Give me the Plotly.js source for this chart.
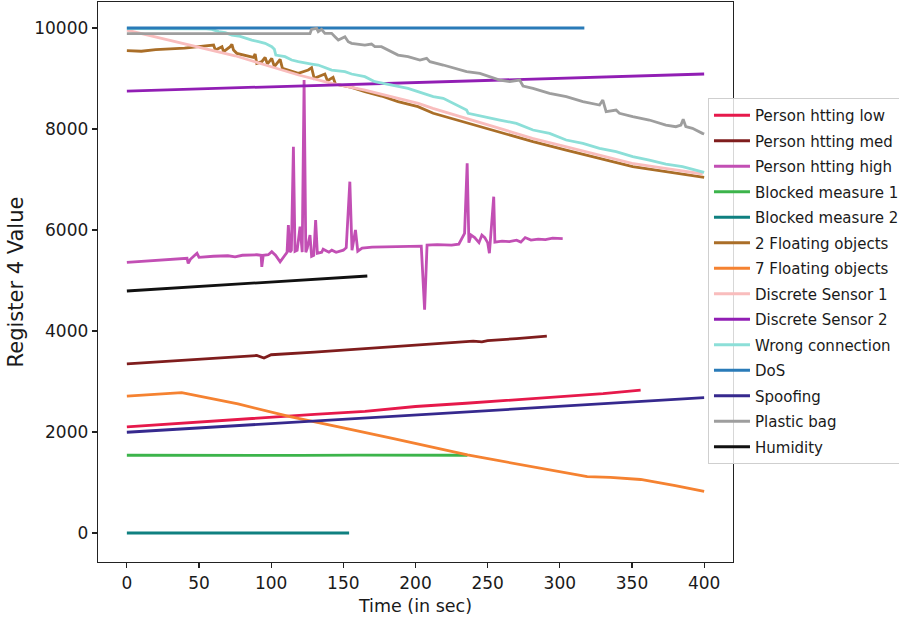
<!DOCTYPE html>
<html>
<head>
<meta charset="utf-8">
<script src="https://cdn.plot.ly/plotly-3.0.1.min.js"></script>
<style>html,body{margin:0;padding:0;background:#fff;}#chart{width:899px;height:624px;}</style>
</head>
<body>
<div id="chart"></div>
<script>
// ---- Data ----
const seriesNames = ["Person htting low","Person htting med","Person htting high","Blocked measure 1","Blocked measure 2","2 Floating objects","7 Floating objects","Discrete Sensor 1","Discrete Sensor 2","Wrong connection","DoS","Spoofing","Plastic bag","Humidity"];
const seriesColors = ["#e6194b","#7f1d1d","#c24fb4","#3cb44b","#0f8080","#aa6e28","#f58231","#f9bdbd","#911eb4","#8cdfd8","#2a7bb8","#36298e","#9e9e9e","#111111"];

const lowT = [0,30,60,95,130,165,200,235,270,300,330,356];
const lowV = [2100,2160,2215,2285,2350,2410,2505,2570,2640,2700,2760,2830];

const medT = [0,30,60,90,95,100,130,160,190,212,240,246,250,270,291];
const medV = [3350,3405,3460,3515,3465,3530,3580,3640,3690,3740,3800,3785,3810,3850,3900];

const highT = [0,20,40,41.7,42.5,44,48.6,50,60,70,75,80,90,93,93.5,94.5,98,100.4,103,106.2,109,111,111.9,113,114,115.4,116.5,118,120,121.5,122.8,124,125,126.9,128,129.5,130.8,132,135,136,140,142,145,150,152,154.5,156,158.4,160,163,170,180,190,200,204,206.3,208,215,225,230,233,234,235.8,237,238.5,241,244,246,248,250,251.2,254.2,255,260,265,270,273,276,280,285,290,295,302];
const highV = [5360,5395,5430,5440,5340,5420,5540,5460,5480,5490,5470,5500,5510,5500,5270,5500,5510,5570,5500,5370,5480,5560,6099,5560,5600,7650,5580,5600,6066,5560,8970,5560,5640,5900,5480,5500,6198,5540,5560,5620,5560,5600,5560,5600,5650,6957,5600,6000,5580,5640,5660,5670,5680,5690,5680,4420,5700,5710,5700,5720,5900,5934,7320,5750,5900,5850,5750,5900,5850,5750,5540,6660,5760,5780,5770,5800,5760,5850,5800,5820,5810,5840,5830];

const blk1T = [0,40,80,120,160,200,236];
const blk1V = [1540,1535,1541,1537,1542,1536,1540];

const blk2T = [0,154];
const blk2V = [0,0];

const float2T = [0,10,20,26.7,40,49.7,60.1,61.3,65.9,67,71.6,72.8,73.9,76.2,82,87.7,88.9,90,93.5,95.8,97.4,100.4,102.2,106.2,107.8,118.8,125.7,128,129.8,137.2,139,142.9,144.5,155.7,164.9,176.4,187.9,201.7,212.3,235.4,258.4,281.4,304.4,327.5,350.5,373.5,398.8,400];
const float2V = [9551,9540,9570,9578,9600,9630,9663,9564,9630,9531,9630,9676,9564,9498,9465,9419,9485,9300,9333,9419,9287,9399,9234,9379,9201,9102,9168,9214,9003,9089,8957,9023,8891,8825,8739,8653,8541,8442,8311,8125,7947,7749,7584,7419,7254,7155,7056,7040];

const float7T = [0,38,77,113,150,184,236,280,319,335,345,356,380,400];
const float7V = [2710,2780,2555,2305,2080,1875,1545,1310,1115,1100,1080,1060,940,825];

const ds1T = [0,25,50,75,96,119,142,165,188,202,212,235,258,281,304,327,350,373,399];
const ds1V = [9960,9790,9630,9450,9267,9069,8905,8772,8607,8508,8410,8212,8014,7816,7650,7485,7321,7221,7109];

const ds2T = [0,100,200,300,400];
const ds2V = [8752,8840,8925,9005,9089];

const wrongT = [0,30,55,58.9,63.6,68.2,72.8,77.4,82,86.6,91.2,95.8,100.4,102.2,103.2,109.6,114.2,118.8,128,132.6,141.9,151.1,155.7,164.9,171.8,183.3,194.8,201.7,212.3,219.2,235.4,236.5,246.8,258.4,269.9,281.4,292.9,304.4,316,327.5,339,350.5,362,373.5,385,398.8,400];
const wrongV = [9990,9990,9985,9974,9927,9907,9861,9842,9795,9762,9729,9696,9630,9578,9465,9432,9366,9333,9287,9267,9168,9135,9089,9036,8937,8871,8805,8739,8640,8607,8376,8311,8244,8178,8112,7980,7914,7782,7716,7617,7551,7452,7386,7307,7254,7155,7140];

const dosT = [0,317];
const dosV = [10000,10000];

const spoofT = [0,100,200,300,400];
const spoofV = [1995,2170,2340,2510,2680];

const bagT = [0,60,126.9,128,131.5,132.6,134.9,137.2,141.9,144.2,146.5,151.1,153.4,155.7,164.9,169.5,171.8,176.4,183.3,187.9,194.8,203.1,207.7,210,219.2,235.4,244.6,251.5,258.4,265.3,272.2,274.5,281.4,292.9,304.5,316,327.5,329.8,332.1,339,341.3,350.5,362,373.5,380.4,383.9,385.5,387.3,391.9,398.8,400];
const bagV = [9887,9885,9887,9974,9993,9927,9974,9894,9894,9828,9762,9828,9729,9696,9663,9683,9630,9630,9531,9465,9432,9366,9400,9333,9267,9135,9102,9036,8970,8937,8970,8851,8805,8707,8640,8541,8475,8574,8343,8376,8311,8244,8178,8079,8046,8079,8192,8046,8013,7914,7900];

const humT = [0,40,80,120,166.6];
const humV = [4792,4865,4935,5010,5089];

const xTickVals = [0,50,100,150,200,250,300,350,400];
const yTickVals = [0,2000,4000,6000,8000,10000];

// ---- Build traces ----
const xs = [lowT,medT,highT,blk1T,blk2T,float2T,float7T,ds1T,ds2T,wrongT,dosT,spoofT,bagT,humT];
const ys = [lowV,medV,highV,blk1V,blk2V,float2V,float7V,ds1V,ds2V,wrongV,dosV,spoofV,bagV,humV];

const traces = seriesNames.map((n,i)=>({
  type:'scatter', mode:'lines', name:n, x:xs[i], y:ys[i],
  legendgroup:'g'+i,
  line:{color:seriesColors[i], width:2.8}
}));

const font = "DejaVu Sans, sans-serif";
const layout = {
  width:899, height:624,
  margin:{l:98, r:166, t:2, b:62, autoexpand:false},
  paper_bgcolor:'#fff', plot_bgcolor:'#fff',
  font:{family:font, color:'#1a1a1a', size:15},
  showlegend:true,
  legend:{
    x:0.9606, y:0.8286, xanchor:'left', yanchor:'top',
    bgcolor:'rgba(255,255,255,0.82)', bordercolor:'#cfcfcf', borderwidth:1,
    font:{family:font, size:15, color:'#1a1a1a'},
    tracegroupgap:3, itemwidth:36
  },
  xaxis:{
    range:[-20,420], tickvals:xTickVals, ticktext:xTickVals.map(String),
    showgrid:false, zeroline:false, showline:true, linecolor:'#222', linewidth:1.3, mirror:true,
    ticks:'outside', ticklen:5, tickwidth:1.2, tickcolor:'#222',
    tickfont:{family:font, size:17, color:'#1a1a1a'},
    title:{text:'Time (in sec)', font:{family:font, size:17.5, color:'#1a1a1a'}, standoff:8}
  },
  yaxis:{
    range:[-574,10515], tickvals:yTickVals, ticktext:yTickVals.map(String),
    showgrid:false, zeroline:false, showline:true, linecolor:'#222', linewidth:1.3, mirror:true,
    ticks:'outside', ticklen:5, tickwidth:1.2, tickcolor:'#222',
    tickfont:{family:font, size:17, color:'#1a1a1a'},
    title:{text:'Register 4 Value', font:{family:font, size:21, color:'#1a1a1a'}, standoff:5}
  }
};

Plotly.newPlot('chart', traces, layout, {displayModeBar:false, staticPlot:true});
</script>
</body>
</html>
